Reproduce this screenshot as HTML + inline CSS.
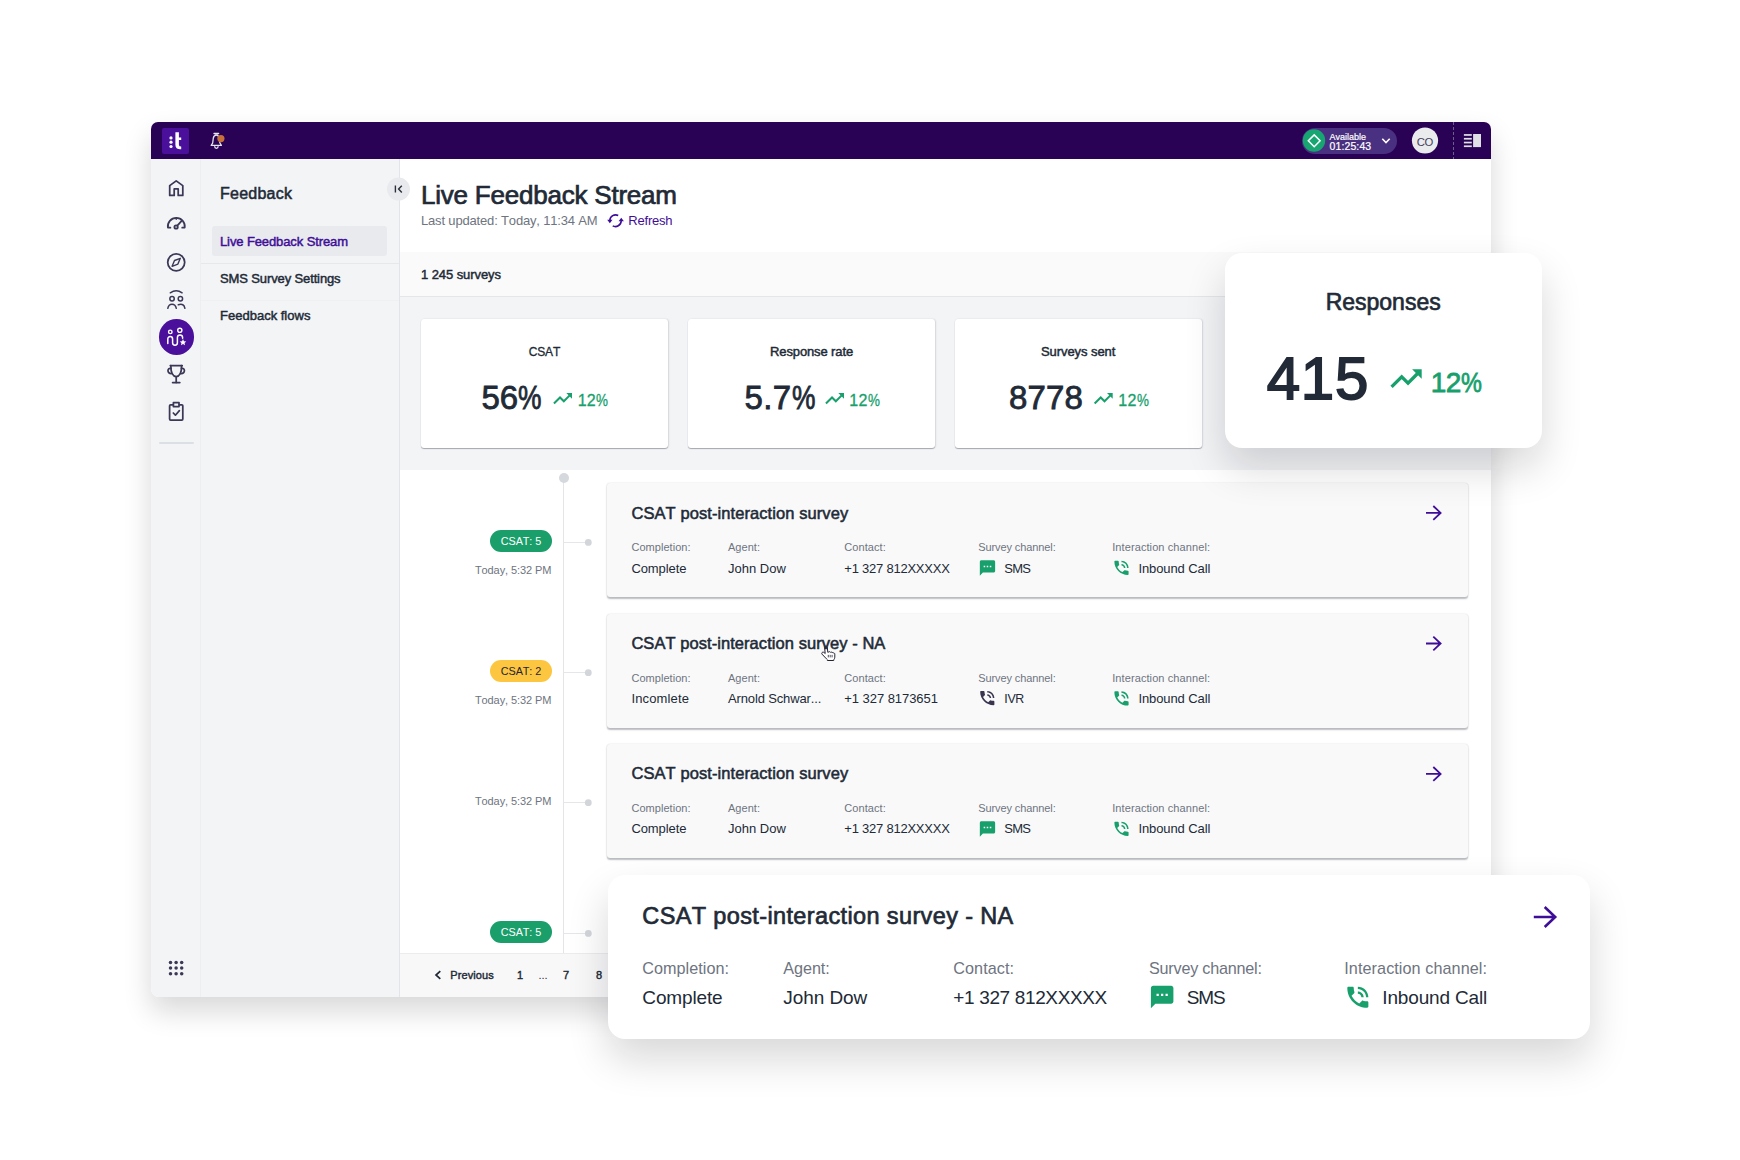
<!DOCTYPE html>
<html lang="en"><head><meta charset="utf-8"><title>Live Feedback Stream</title>
<style>
html,body{margin:0;padding:0}
body{width:1740px;height:1160px;position:relative;overflow:hidden;background:#fff;font-family:"Liberation Sans",Arial,sans-serif}
.t{position:absolute;white-space:nowrap;line-height:1;font-kerning:none}
.pc{display:inline-block;transform:scaleX(.84);transform-origin:0 50%;margin-right:-.142em}
.a{position:absolute}
#win{left:151px;top:122px;width:1340px;height:875px;border-radius:7px 7px 8px 8px;overflow:hidden;background:#fff;
 box-shadow:0 14px 28px rgba(10,10,20,.16)}
#pg{left:-151px;top:-122px;width:1740px;height:1160px}
.kpi{background:#fff;border-radius:3px;box-shadow:0 1px 1px rgba(40,45,60,.36),1px 0 2px rgba(40,45,60,.11),0 0 1px rgba(40,45,60,.08)}
.card{background:#f9f9fa;border-radius:3px;box-shadow:0 1.5px 1.5px rgba(40,45,60,.30),0 0 1.5px rgba(40,45,60,.16)}
.fl{background:#fff;border-radius:17px;box-shadow:0 20px 40px rgba(10,10,20,.16)}
svg{position:absolute;left:0;top:0;overflow:visible}
</style></head><body>
<div class="a" id="win"><div class="a" id="pg">
<!-- top bar -->
<div class="a" style="left:151px;top:122px;width:1340px;height:37px;background:#290256"></div>
<div class="a" style="left:162px;top:127.5px;width:26.5px;height:26.5px;background:#4a109c;border-radius:2px"></div>
<div class="a" style="left:1301.5px;top:127.8px;width:95.6px;height:25.8px;border-radius:13px;background:#4a3080"></div>
<!-- side bars -->
<div class="a" style="left:151px;top:159px;width:49.5px;height:838px;background:#f3f4f6;border-right:1px solid #eceef1;box-sizing:border-box"></div>
<div class="a" style="left:200.5px;top:159px;width:199px;height:838px;background:#f3f4f6;border-right:1px solid #e2e4e8;box-sizing:border-box"></div>
<div class="a" style="left:212.3px;top:226px;width:175px;height:30px;background:#e8eaed;border-radius:3px"></div>
<div class="a" style="left:201px;top:263px;width:198px;height:1px;background:#e6e8eb"></div>
<div class="a" style="left:201px;top:300px;width:198px;height:1px;background:#eff0f2"></div>
<div class="a" style="left:158.5px;top:319.2px;width:35.4px;height:35.4px;border-radius:50%;background:#4a109c"></div>
<div class="a" style="left:158.5px;top:442px;width:35.5px;height:2px;border-radius:1px;background:#dcdfe3"></div>
<!-- main -->
<div class="a" style="left:400px;top:252.3px;width:1091px;height:43.7px;background:#fafafb;border-bottom:1px solid #e4e6e9"></div>
<div class="a" style="left:400px;top:297px;width:1091px;height:173px;background:#f3f4f6"></div>
<div class="a kpi" style="left:421px;top:318.7px;width:247.2px;height:128.9px"></div>
<div class="a kpi" style="left:687.8px;top:318.7px;width:247.2px;height:128.9px"></div>
<div class="a kpi" style="left:954.8px;top:318.7px;width:247.2px;height:128.9px"></div>
<div class="a" style="left:400px;top:952.7px;width:1091px;height:45px;background:#f8f8f9;border-top:1px solid #ebecee"></div>
<!-- timeline -->
<div class="a" style="left:563.1px;top:478px;width:1.25px;height:475px;background:#e3e5e8"></div>
<div class="a" style="left:558.8px;top:472.7px;width:10px;height:10px;border-radius:50%;background:#d5d8dc"></div>
<div class="a" style="left:490px;top:529.8px;width:62px;height:22px;border-radius:11px;background:#1a9e6a"></div>
<div class="a" style="left:490px;top:660.2px;width:62px;height:22px;border-radius:11px;background:#fdc640"></div>
<div class="a" style="left:490px;top:920.8px;width:62px;height:22px;border-radius:11px;background:#1a9e6a"></div>
<div class="a card" style="left:607px;top:482.6px;width:861px;height:114px"></div>
<div class="a card" style="left:607px;top:613.5px;width:861px;height:114px"></div>
<div class="a card" style="left:607px;top:744px;width:861px;height:114px"></div>
<svg width="1740" height="1160" viewBox="0 0 1740 1160">
<!-- logo -->
<g fill="#fff"><circle cx="171" cy="137.9" r="1.6"/><circle cx="171" cy="142.2" r="1.6"/><circle cx="171" cy="146.5" r="1.6"/>
<path d="M175.4 132.2h3.5v5.2h2.3v2.6h-2.3v4.7q0 1.9 2.3 1.9v2.7q-5.8.4-5.8-4.5z"/></g>
<!-- bell -->
<g fill="none" stroke="#e4e4ea" stroke-width="1.3" stroke-linejoin="round" stroke-linecap="round">
<path d="M214 133.5h4.6" stroke-width="1.4"/><path d="M215.2 134.6h2.2" stroke="#b9b6c6" stroke-width="1"/><path d="M211.2 145.4L212.7 143L213.3 138.2C213.6 136.1 214.7 135.1 216.3 135.1C217.9 135.1 219 136.1 219.3 138.2L219.9 143L221.4 145.4Z"/><path d="M214.7 146.6a1.7 1.7 0 0 0 3.4 0"/></g>
<circle cx="220.9" cy="138.6" r="3.6" fill="#c6703a"/>
<!-- status -->
<circle cx="1314" cy="140.5" r="11.2" fill="#17a672"/>
<path d="M1314.2 134.9l5.9 5.9-5.9 5.9-5.9-5.9z" fill="none" stroke="#fff" stroke-width="1.5"/>
<path d="M1382.3 138.8l3.7 3.8 3.7-3.8" fill="none" stroke="#fff" stroke-width="1.6"/>
<circle cx="1425" cy="140.5" r="13.1" fill="#e9ebed"/>
<path d="M1453.5 122v37" stroke="#6d5f8c" stroke-width="1" stroke-dasharray="3 2"/>
<g fill="#e0e1e5"><rect x="1463.9" y="134.1" width="7.9" height="1.7"/><rect x="1463.9" y="137.9" width="7.9" height="1.7"/><rect x="1463.9" y="141.7" width="7.9" height="1.7"/><rect x="1463.9" y="145.4" width="7.9" height="1.7"/><rect x="1473.1" y="134" width="7.9" height="13.1"/></g>
<!-- side icons -->
<g fill="none" stroke="#3b3756" stroke-width="1.75" stroke-linecap="round" stroke-linejoin="round">
<path d="M169.7 185.6L176.2 180.9L182.8 185.6V195.4H178.2V188.9H174.2V195.4H169.7Z"/>
<path d="M170.4 227.7H167.9A8.5 8.5 0 1 1 184.7 227.7H182.2"/><path d="M177.3 225.7L181.2 221.3"/><circle cx="176.1" cy="227" r="1.7"/><path d="M176.2 218.2V219.4" stroke-width="1.2"/>
<circle cx="176.2" cy="262.3" r="8.5"/><path d="M180.3 258.3L177.9 264.1L172.1 266.3L174.5 260.5Z" stroke-width="1.4"/>
<path d="M170.3 292.8Q176.2 288.8 182.1 292.8" stroke-width="1.5"/><circle cx="172.05" cy="298.8" r="2.2" stroke-width="1.5"/><circle cx="180.4" cy="298.8" r="2.2" stroke-width="1.5"/>
<path d="M167.8 308.3Q168.6 304.2 172 304.2Q175.5 304.2 176.3 308.3" stroke-width="1.5"/><path d="M178.3 304.8Q184 303 184.9 308.3" stroke-width="1.5"/>
<path d="M170.3 365.6H182.2"/><path d="M170.8 365.6C170.8 372 172.6 376.5 176.2 376.5C179.8 376.5 181.6 372 181.6 365.6"/>
<path d="M170.9 368.4C167 367.4 166.8 374 171.6 373.5"/><path d="M181.5 368.4C185.4 367.4 185.6 374 180.8 373.5"/><path d="M176.2 376.8V382.4"/><path d="M172.6 382.5H179.8"/>
<rect x="169.6" y="404.8" width="13.2" height="15.3" rx="1"/><rect x="173.4" y="402.7" width="5.6" height="3.9" fill="#f3f4f6"/><path d="M173.3 413L175.4 415.2L179.4 410.6" stroke-width="1.7"/>
</g>
<g fill="none" stroke="#fff" stroke-width="1.5" stroke-linecap="round" stroke-linejoin="round">
<circle cx="170.3" cy="331.9" r="1.75" stroke-width="1.4"/><circle cx="179.8" cy="330.3" r="2.1" stroke-width="1.4"/>
<path d="M167.8 343.6V339A2.4 2.4 0 0 1 172.6 339V342.8A2.4 2.4 0 0 0 177.4 342.8V337.6A2.6 2.6 0 0 1 182.6 337.6V338.2"/>
</g>
<path d="M183 339.1l.95 2.1 2.3.25-1.7 1.55.47 2.25-2.02-1.15-2.02 1.15.47-2.25-1.7-1.55 2.3-.25z" fill="#fff"/>
<g fill="#3b3756"><circle cx="170.5" cy="962.5" r="1.75"/><circle cx="176.1" cy="962.5" r="1.75"/><circle cx="181.7" cy="962.5" r="1.75"/><circle cx="170.5" cy="968.1" r="1.75"/><circle cx="176.1" cy="968.1" r="1.75"/><circle cx="181.7" cy="968.1" r="1.75"/><circle cx="170.5" cy="973.7" r="1.75"/><circle cx="176.1" cy="973.7" r="1.75"/><circle cx="181.7" cy="973.7" r="1.75"/></g>
<!-- collapse -->
<circle cx="398.5" cy="189.1" r="11.5" fill="#e8eaed"/>
<path d="M395.4 185.6V192.6M401.8 185.8L398.6 189.1L401.8 192.4" fill="none" stroke="#2a2f3a" stroke-width="1.4"/>
<!-- refresh -->
<g fill="none" stroke="#3f0e98" stroke-width="1.6"><path d="M618.2 215.5A5.8 5.8 0 0 0 609.8 220.4"/><path d="M612.7 225.9A5.8 5.8 0 0 0 621.2 221"/></g>
<path d="M607.2 219.7h5.3l-2.65 3.5zM618.6 221.3h5.3l-2.65-3.6z" fill="#3f0e98"/>
<!-- trends -->
<g transform="translate(551.1 387.3) scale(0.95)"><path d="M3 17.1L9.4 10.7L13.4 14.7L19.6 8.5" fill="none" stroke="#17a06c" stroke-width="2.1"/><path d="M16 6H22V12Z" fill="#17a06c"/></g>
<g transform="translate(823.1 387.3) scale(0.95)"><path d="M3 17.1L9.4 10.7L13.4 14.7L19.6 8.5" fill="none" stroke="#17a06c" stroke-width="2.1"/><path d="M16 6H22V12Z" fill="#17a06c"/></g>
<g transform="translate(1091.8 387.3) scale(0.95)"><path d="M3 17.1L9.4 10.7L13.4 14.7L19.6 8.5" fill="none" stroke="#17a06c" stroke-width="2.1"/><path d="M16 6H22V12Z" fill="#17a06c"/></g>
<!-- timeline connectors -->
<g stroke="#e4e6e9" stroke-width="1"><path d="M564 542.5H586M564 672.5H586M564 802.5H586M564 933.5H586"/></g>
<g fill="#d2d5da"><circle cx="588.3" cy="542.4" r="3.4"/><circle cx="588.3" cy="672.7" r="3.4"/><circle cx="588.3" cy="802.7" r="3.4"/><circle cx="588.3" cy="933.4" r="3.4"/></g>
<!-- card icons -->
<g id="ci1">
<path fill="#17a06c" transform="translate(978.3 558.8) scale(.765)" d="M20 2H4c-1.1 0-1.99.9-1.99 2L2 22l4-4h14c1.1 0 2-.9 2-2V4c0-1.1-.9-2-2-2zM9 11H7V9h2v2zm4 0h-2V9h2v2zm4 0h-2V9h2v2z"/>
<path fill="#17a06c" transform="translate(1112 558.4) scale(.79)" d="M20 15.5c-1.25 0-2.45-.2-3.57-.57-.35-.11-.74-.03-1.02.24l-2.2 2.2c-2.83-1.44-5.15-3.75-6.59-6.59l2.2-2.21c.28-.26.36-.65.25-1C8.700 6.450 8.500 5.250 8.500 4c0-.55-.45-1-1-1H4c-.55 0-1 .45-1 1 0 9.390 7.610 17 17 17 .55 0 1-.45 1-1v-3.500c0-.55-.45-1-1-1zM19 12h2c0-4.970-4.030-9-9-9v2c3.870 0 7 3.130 7 7zm-4 0h2c0-2.760-2.240-5-5-5v2c1.660 0 3 1.340 3 3z"/>
<path fill="none" stroke="#3f0e98" stroke-width="1.8" d="M1426 512.9H1440.4M1433.3 506L1440.6 512.9L1433.3 519.8"/>
</g>
<g id="ci2" transform="translate(0 130.6)">
<path fill="#39354f" transform="translate(977.8 558) scale(.79)" d="M20 15.5c-1.25 0-2.45-.2-3.57-.57-.35-.11-.74-.03-1.02.24l-2.2 2.2c-2.83-1.44-5.15-3.75-6.59-6.59l2.2-2.21c.28-.26.36-.65.25-1C8.700 6.450 8.500 5.250 8.500 4c0-.55-.45-1-1-1H4c-.55 0-1 .45-1 1 0 9.390 7.610 17 17 17 .55 0 1-.45 1-1v-3.500c0-.55-.45-1-1-1zM19 12h2c0-4.970-4.030-9-9-9v2c3.870 0 7 3.130 7 7zm-4 0h2c0-2.760-2.240-5-5-5v2c1.660 0 3 1.340 3 3z"/>
<path fill="#17a06c" transform="translate(1112 558.4) scale(.79)" d="M20 15.5c-1.25 0-2.45-.2-3.57-.57-.35-.11-.74-.03-1.02.24l-2.2 2.2c-2.83-1.44-5.15-3.75-6.59-6.59l2.2-2.21c.28-.26.36-.65.25-1C8.700 6.450 8.500 5.250 8.500 4c0-.55-.45-1-1-1H4c-.55 0-1 .45-1 1 0 9.390 7.610 17 17 17 .55 0 1-.45 1-1v-3.500c0-.55-.45-1-1-1zM19 12h2c0-4.970-4.030-9-9-9v2c3.870 0 7 3.130 7 7zm-4 0h2c0-2.760-2.240-5-5-5v2c1.660 0 3 1.340 3 3z"/>
<path fill="none" stroke="#3f0e98" stroke-width="1.8" d="M1426 512.9H1440.4M1433.3 506L1440.6 512.9L1433.3 519.8"/>
</g>
<g id="ci3" transform="translate(0 261)">
<path fill="#17a06c" transform="translate(978.3 558.8) scale(.765)" d="M20 2H4c-1.1 0-1.99.9-1.99 2L2 22l4-4h14c1.1 0 2-.9 2-2V4c0-1.1-.9-2-2-2zM9 11H7V9h2v2zm4 0h-2V9h2v2zm4 0h-2V9h2v2z"/>
<path fill="#17a06c" transform="translate(1112 558.4) scale(.79)" d="M20 15.5c-1.25 0-2.45-.2-3.57-.57-.35-.11-.74-.03-1.02.24l-2.2 2.2c-2.83-1.44-5.15-3.75-6.59-6.59l2.2-2.21c.28-.26.36-.65.25-1C8.700 6.450 8.500 5.250 8.500 4c0-.55-.45-1-1-1H4c-.55 0-1 .45-1 1 0 9.390 7.610 17 17 17 .55 0 1-.45 1-1v-3.500c0-.55-.45-1-1-1zM19 12h2c0-4.970-4.030-9-9-9v2c3.870 0 7 3.130 7 7zm-4 0h2c0-2.760-2.240-5-5-5v2c1.660 0 3 1.340 3 3z"/>
<path fill="none" stroke="#3f0e98" stroke-width="1.8" d="M1426 512.9H1440.4M1433.3 506L1440.6 512.9L1433.3 519.8"/>
</g>
<!-- pagination chevron -->
<path d="M440.3 971.1L436 975L440.3 978.9" fill="none" stroke="#212a36" stroke-width="1.7"/>
<!-- cursor hand -->
<g transform="translate(821 645.2) scale(1 .95)"><path d="M4.2 1.2c.9-.6 2 0 2.100 1l.5 5.300.500-.100c.7-.9 2-.7 2.400.200.800-.6 1.900-.3 2.200.600.9-.4 1.900.200 1.900 1.200v3.200c0 .9-.3 1.700-.8 2.400l-.3.400v.700H6.400v-.8l-.9-.9L1 9.400c-.5-.7-.2-1.700.600-2 .600-.2 1.200 0 1.600.400l1 1L3.600 2.400c0-.5.200-.9.600-1.200z" fill="#fff" stroke="#1d1b2c" stroke-width="1" stroke-linejoin="round"/><path d="M7.300 10.200v2.600M9.200 10.200v2.600M11.100 10.200v2.600" stroke="#1d1b2c" stroke-width=".8"/></g>

</svg>
<span class="t" style="left:1329.50px;top:133.00px;font-size:9px;color:#ffffff;letter-spacing:-0.004px;-webkit-text-stroke:0.2px #ffffff;">Available</span>
<span class="t" style="left:1329.50px;top:141.00px;font-size:10.5px;color:#ffffff;letter-spacing:0.118px;-webkit-text-stroke:0.2px #ffffff;">01:25:43</span>
<span class="t" style="left:1416.70px;top:137.00px;font-size:11.3px;color:#45415e;letter-spacing:-0.353px;">CO</span>
<span class="t" style="left:220.00px;top:186.00px;font-size:16px;color:#212a36;letter-spacing:0.248px;-webkit-text-stroke:0.52px #212a36;">Feedback</span>
<span class="t" style="left:220.00px;top:235.00px;font-size:13px;color:#3f0e98;letter-spacing:-0.109px;-webkit-text-stroke:0.46px #3f0e98;">Live Feedback Stream</span>
<span class="t" style="left:220.00px;top:272.00px;font-size:13px;color:#212a36;letter-spacing:-0.124px;-webkit-text-stroke:0.46px #212a36;">SMS Survey Settings</span>
<span class="t" style="left:220.00px;top:309.00px;font-size:13px;color:#212a36;letter-spacing:0.006px;-webkit-text-stroke:0.46px #212a36;">Feedback flows</span>
<span class="t" style="left:421.00px;top:182.00px;font-size:26px;color:#212a36;letter-spacing:-0.218px;-webkit-text-stroke:0.72px #212a36;">Live Feedback Stream</span>
<span class="t" style="left:421.00px;top:214.00px;font-size:13px;color:#6e7480;letter-spacing:-0.168px;">Last updated: Today, 11:34 AM</span>
<span class="t" style="left:628.30px;top:214.00px;font-size:13px;color:#3f0e98;letter-spacing:-0.205px;">Refresh</span>
<span class="t" style="left:421.00px;top:268.00px;font-size:13px;color:#212a36;letter-spacing:-0.078px;-webkit-text-stroke:0.46px #212a36;">1 245 surveys</span>
<span class="t" style="left:528.70px;top:346.00px;font-size:12px;color:#212a36;letter-spacing:-0.139px;-webkit-text-stroke:0.3px #212a36;">CSAT</span>
<span class="t" style="left:770.00px;top:345.00px;font-size:13px;color:#212a36;letter-spacing:-0.114px;-webkit-text-stroke:0.46px #212a36;">Response rate</span>
<span class="t" style="left:1041.00px;top:345.00px;font-size:13px;color:#212a36;letter-spacing:-0.069px;-webkit-text-stroke:0.46px #212a36;">Surveys sent</span>
<span class="t" style="left:481.40px;top:381.00px;font-size:33px;color:#212a36;letter-spacing:-0.002px;-webkit-text-stroke:0.8px #212a36;">56<span class="pc" style="transform:scaleX(0.80);margin-right:-0.178em">%</span></span>
<span class="t" style="left:744.60px;top:381.00px;font-size:33px;color:#212a36;letter-spacing:0.347px;-webkit-text-stroke:0.8px #212a36;">5.7<span class="pc" style="transform:scaleX(0.80);margin-right:-0.178em">%</span></span>
<span class="t" style="left:1009.00px;top:381.00px;font-size:33px;color:#212a36;letter-spacing:0.159px;-webkit-text-stroke:0.8px #212a36;">8778</span>
<span class="t" style="left:577.70px;top:393.00px;font-size:16px;color:#17a06c;letter-spacing:0.217px;-webkit-text-stroke:0.3px #17a06c;">12<span class="pc">%</span></span>
<span class="t" style="left:849.20px;top:393.00px;font-size:16px;color:#17a06c;letter-spacing:0.317px;-webkit-text-stroke:0.3px #17a06c;">12<span class="pc">%</span></span>
<span class="t" style="left:1118.20px;top:393.00px;font-size:16px;color:#17a06c;letter-spacing:0.367px;-webkit-text-stroke:0.3px #17a06c;">12<span class="pc">%</span></span>
<span class="t" style="left:500.75px;top:536.00px;font-size:10.8px;color:#ffffff;letter-spacing:-0.052px;">CSAT: 5</span>
<span class="t" style="left:474.90px;top:565.00px;font-size:11px;color:#6e7480;letter-spacing:-0.081px;">Today, 5:32 PM</span>
<span class="t" style="left:500.75px;top:666.00px;font-size:10.8px;color:#1f2533;letter-spacing:-0.052px;">CSAT: 2</span>
<span class="t" style="left:474.90px;top:695.00px;font-size:11px;color:#6e7480;letter-spacing:-0.081px;">Today, 5:32 PM</span>
<span class="t" style="left:474.90px;top:796.00px;font-size:11px;color:#6e7480;letter-spacing:-0.081px;">Today, 5:32 PM</span>
<span class="t" style="left:500.75px;top:927.00px;font-size:10.8px;color:#ffffff;letter-spacing:-0.052px;">CSAT: 5</span>
<span class="t" style="left:631.40px;top:505.00px;font-size:16.5px;color:#212a36;letter-spacing:0.082px;-webkit-text-stroke:0.53px #212a36;">CSAT post-interaction survey</span>
<span class="t" style="left:631.40px;top:542.00px;font-size:11px;color:#6e7480;letter-spacing:0.050px;">Completion:</span>
<span class="t" style="left:728.00px;top:542.00px;font-size:11px;color:#6e7480;letter-spacing:0.037px;">Agent:</span>
<span class="t" style="left:844.30px;top:542.00px;font-size:11px;color:#6e7480;letter-spacing:0.076px;">Contact:</span>
<span class="t" style="left:978.20px;top:542.00px;font-size:11px;color:#6e7480;letter-spacing:-0.099px;">Survey channel:</span>
<span class="t" style="left:1112.20px;top:542.00px;font-size:11px;color:#6e7480;letter-spacing:0.094px;">Interaction channel:</span>
<span class="t" style="left:631.40px;top:562.00px;font-size:13px;color:#212a36;letter-spacing:-0.092px;">Complete</span>
<span class="t" style="left:728.00px;top:562.00px;font-size:13px;color:#212a36;letter-spacing:-0.002px;">John Dow</span>
<span class="t" style="left:844.30px;top:562.00px;font-size:13px;color:#212a36;letter-spacing:-0.234px;">+1 327 812XXXXX</span>
<span class="t" style="left:1004.30px;top:562.00px;font-size:13px;color:#212a36;letter-spacing:-0.736px;">SMS</span>
<span class="t" style="left:1138.40px;top:562.00px;font-size:13px;color:#212a36;letter-spacing:-0.091px;">Inbound Call</span>
<span class="t" style="left:631.40px;top:635.00px;font-size:16.5px;color:#212a36;letter-spacing:0.057px;-webkit-text-stroke:0.53px #212a36;">CSAT post-interaction survey - NA</span>
<span class="t" style="left:631.40px;top:673.00px;font-size:11px;color:#6e7480;letter-spacing:0.050px;">Completion:</span>
<span class="t" style="left:728.00px;top:673.00px;font-size:11px;color:#6e7480;letter-spacing:0.037px;">Agent:</span>
<span class="t" style="left:844.30px;top:673.00px;font-size:11px;color:#6e7480;letter-spacing:0.076px;">Contact:</span>
<span class="t" style="left:978.20px;top:673.00px;font-size:11px;color:#6e7480;letter-spacing:-0.099px;">Survey channel:</span>
<span class="t" style="left:1112.20px;top:673.00px;font-size:11px;color:#6e7480;letter-spacing:0.094px;">Interaction channel:</span>
<span class="t" style="left:631.40px;top:692.00px;font-size:13px;color:#212a36;letter-spacing:0.141px;">Incomlete</span>
<span class="t" style="left:728.00px;top:692.00px;font-size:13px;color:#212a36;letter-spacing:-0.138px;">Arnold Schwar...</span>
<span class="t" style="left:844.30px;top:692.00px;font-size:13px;color:#212a36;letter-spacing:-0.058px;">+1 327 8173651</span>
<span class="t" style="left:1004.30px;top:693.00px;font-size:12.4px;color:#212a36;letter-spacing:-0.328px;">IVR</span>
<span class="t" style="left:1138.40px;top:692.00px;font-size:13px;color:#212a36;letter-spacing:-0.091px;">Inbound Call</span>
<span class="t" style="left:631.40px;top:765.00px;font-size:16.5px;color:#212a36;letter-spacing:0.082px;-webkit-text-stroke:0.53px #212a36;">CSAT post-interaction survey</span>
<span class="t" style="left:631.40px;top:803.00px;font-size:11px;color:#6e7480;letter-spacing:0.050px;">Completion:</span>
<span class="t" style="left:728.00px;top:803.00px;font-size:11px;color:#6e7480;letter-spacing:0.037px;">Agent:</span>
<span class="t" style="left:844.30px;top:803.00px;font-size:11px;color:#6e7480;letter-spacing:0.076px;">Contact:</span>
<span class="t" style="left:978.20px;top:803.00px;font-size:11px;color:#6e7480;letter-spacing:-0.099px;">Survey channel:</span>
<span class="t" style="left:1112.20px;top:803.00px;font-size:11px;color:#6e7480;letter-spacing:0.094px;">Interaction channel:</span>
<span class="t" style="left:631.40px;top:822.00px;font-size:13px;color:#212a36;letter-spacing:-0.092px;">Complete</span>
<span class="t" style="left:728.00px;top:822.00px;font-size:13px;color:#212a36;letter-spacing:-0.002px;">John Dow</span>
<span class="t" style="left:844.30px;top:822.00px;font-size:13px;color:#212a36;letter-spacing:-0.234px;">+1 327 812XXXXX</span>
<span class="t" style="left:1004.30px;top:822.00px;font-size:13px;color:#212a36;letter-spacing:-0.736px;">SMS</span>
<span class="t" style="left:1138.40px;top:822.00px;font-size:13px;color:#212a36;letter-spacing:-0.091px;">Inbound Call</span>
<span class="t" style="left:450.30px;top:970.00px;font-size:11px;color:#212a36;letter-spacing:0.100px;-webkit-text-stroke:0.42px #212a36;">Previous</span>
<span class="t" style="left:516.94px;top:970.00px;font-size:11px;color:#212a36;-webkit-text-stroke:0.42px #212a36;">1</span>
<span class="t" style="left:538.41px;top:970.00px;font-size:11px;color:#212a36;">...</span>
<span class="t" style="left:562.94px;top:970.00px;font-size:11px;color:#212a36;-webkit-text-stroke:0.42px #212a36;">7</span>
<span class="t" style="left:595.94px;top:970.00px;font-size:11px;color:#212a36;-webkit-text-stroke:0.42px #212a36;">8</span>
</div></div>
<div class="a fl" style="left:1225px;top:252.8px;width:317px;height:195px"></div>
<div class="a fl" style="left:608.3px;top:875px;width:981.5px;height:164px"></div>
<svg width="1740" height="1160" viewBox="0 0 1740 1160">
<g transform="translate(1386.8 359.8) scale(1.585)"><path d="M3 17.1L9.4 10.7L13.4 14.7L19.6 8.5" fill="none" stroke="#17a06c" stroke-width="2.1"/><path d="M16 6H22V12Z" fill="#17a06c"/></g>
<path fill="#17a06c" transform="translate(1148.65 983.55) scale(1.125)" d="M20 2H4c-1.1 0-1.99.9-1.99 2L2 22l4-4h14c1.1 0 2-.9 2-2V4c0-1.1-.9-2-2-2zM9 11H7V9h2v2zm4 0h-2V9h2v2zm4 0h-2V9h2v2z"/>
<path fill="#17a06c" transform="translate(1343.8 983.2) scale(1.17)" d="M20 15.5c-1.25 0-2.45-.2-3.57-.57-.35-.11-.74-.03-1.02.24l-2.2 2.2c-2.83-1.44-5.15-3.75-6.59-6.59l2.2-2.21c.28-.26.36-.65.25-1C8.700 6.450 8.500 5.250 8.500 4c0-.55-.45-1-1-1H4c-.55 0-1 .45-1 1 0 9.390 7.610 17 17 17 .55 0 1-.45 1-1v-3.500c0-.55-.45-1-1-1zM19 12h2c0-4.970-4.030-9-9-9v2c3.870 0 7 3.130 7 7zm-4 0h2c0-2.760-2.240-5-5-5v2c1.660 0 3 1.340 3 3z"/>
<path fill="none" stroke="#3f0e98" stroke-width="2.6" d="M1533.8 917H1554.8M1544.7 907L1555.2 917L1544.7 927"/>

</svg>
<span class="t" style="left:1325.70px;top:291.00px;font-size:23px;color:#212a36;letter-spacing:-0.010px;-webkit-text-stroke:0.66px #212a36;">Responses</span>
<span class="t" style="left:1266.70px;top:349.00px;font-size:60px;color:#212a36;letter-spacing:0.745px;-webkit-text-stroke:1.8px #212a36;">415</span>
<span class="t" style="left:1430.70px;top:369.00px;font-size:28px;color:#17a06c;letter-spacing:-0.547px;-webkit-text-stroke:0.76px #17a06c;">12<span class="pc">%</span></span>
<span class="t" style="left:642.30px;top:905.00px;font-size:23.5px;color:#212a36;letter-spacing:0.370px;-webkit-text-stroke:0.67px #212a36;">CSAT post-interaction survey - NA</span>
<span class="t" style="left:642.30px;top:960.00px;font-size:16.2px;color:#6e7480;letter-spacing:0.031px;">Completion:</span>
<span class="t" style="left:783.30px;top:960.00px;font-size:16.2px;color:#6e7480;letter-spacing:-0.062px;">Agent:</span>
<span class="t" style="left:953.30px;top:960.00px;font-size:16.2px;color:#6e7480;letter-spacing:0.058px;">Contact:</span>
<span class="t" style="left:1149.00px;top:960.00px;font-size:16.2px;color:#6e7480;letter-spacing:-0.221px;">Survey channel:</span>
<span class="t" style="left:1344.30px;top:960.00px;font-size:16.2px;color:#6e7480;letter-spacing:0.074px;">Interaction channel:</span>
<span class="t" style="left:642.30px;top:988.00px;font-size:19px;color:#212a36;letter-spacing:-0.133px;">Complete</span>
<span class="t" style="left:783.30px;top:988.00px;font-size:19px;color:#212a36;letter-spacing:-0.071px;">John Dow</span>
<span class="t" style="left:953.30px;top:988.00px;font-size:19px;color:#212a36;letter-spacing:-0.357px;">+1 327 812XXXXX</span>
<span class="t" style="left:1186.70px;top:988.00px;font-size:19px;color:#212a36;letter-spacing:-1.094px;">SMS</span>
<span class="t" style="left:1382.30px;top:988.00px;font-size:19px;color:#212a36;letter-spacing:-0.155px;">Inbound Call</span>
</body></html>
